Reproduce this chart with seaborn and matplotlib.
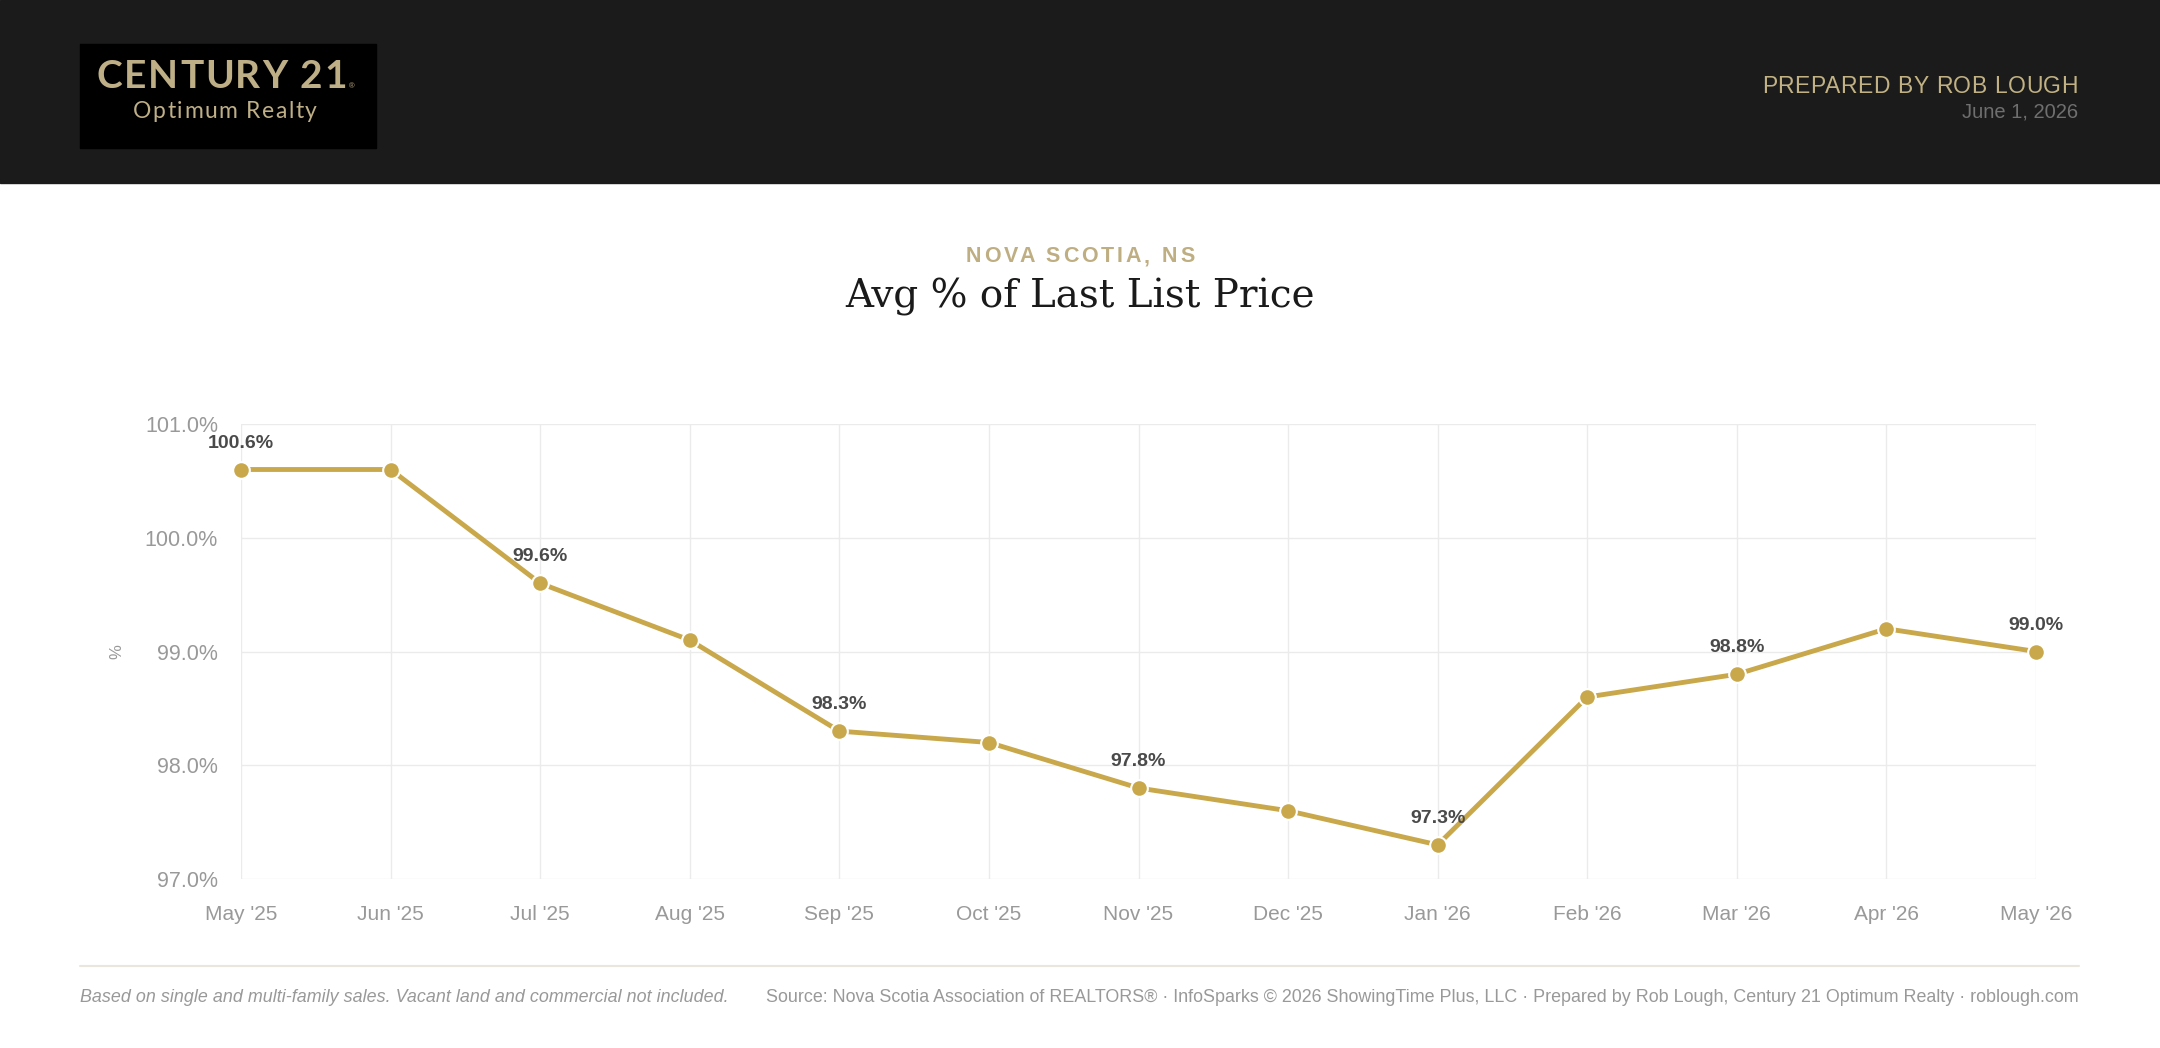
import pandas as pd
import seaborn as sns
import matplotlib.pyplot as plt
from matplotlib.patches import Rectangle
from matplotlib.lines import Line2D

# data
months = ["May '25", "Jun '25", "Jul '25", "Aug '25", "Sep '25", "Oct '25", "Nov '25",
          "Dec '25", "Jan '26", "Feb '26", "Mar '26", "Apr '26", "May '26"]
pct_of_list = [100.6, 100.6, 99.6, 99.1, 98.3, 98.2, 97.8, 97.6, 97.3, 98.6, 98.8, 99.2, 99.0]
labeled_idx = [0, 2, 4, 6, 8, 10, 12]
y_ticks = [97.0, 98.0, 99.0, 100.0, 101.0]

W, H = 2160, 1048
GOLD = '#c9a84c'
GRID = '#ebebeb'

sns.set_theme(style='white')
plt.rcParams['font.family'] = ['Liberation Sans', 'DejaVu Sans']

fig = plt.figure(figsize=(W / 100, H / 100), dpi=100)
fig.patch.set_facecolor('white')


def fx(px):
    return px / W


def fy(py):
    return 1 - py / H


def spaced_text(x, y, s, spacing, ha='left', **kw):
    # draw text char by char so we get letter spacing (pixel coords, y = baseline from top)
    r = fig.canvas.get_renderer()

    def width(t):
        if not t.strip():
            return 0
        tmp = fig.text(0, 0, t, **kw)
        w = tmp.get_window_extent(r).width
        tmp.remove()
        return w

    total = width(s) + spacing * (len(s) - 1)
    if ha == 'center':
        x0 = x - total / 2
    elif ha == 'right':
        x0 = x - total
    else:
        x0 = x
    for i, ch in enumerate(s):
        if ch == ' ':
            continue
        start = width(s[:i + 1]) - width(ch)
        fig.text(fx(x0 + start + i * spacing), fy(y), ch, ha='left', va='baseline', **kw)
    return x0 + total


# header band + logo
fig.add_artist(Rectangle((0, fy(183)), 1, 183 / H, transform=fig.transFigure,
                         color='#1b1b1b', zorder=0))
fig.add_artist(Rectangle((fx(80), fy(148)), 296 / W, 104 / H, transform=fig.transFigure,
                         color='black', zorder=1))
logo_end = spaced_text(97, 88, 'CENTURY 21', 1.6, family=['Lato', 'DejaVu Sans'],
                       fontweight='bold', fontsize=28, color='#beaf87')
fig.text(fx(logo_end + 2), fy(88), '®', fontsize=5.5, color='#beaf87', va='baseline')
spaced_text(225, 118, 'Optimum Realty', 1.5, ha='center', family=['Lato', 'DejaVu Sans'],
            fontsize=16.5, color='#beaf87')

spaced_text(2078, 93, 'PREPARED BY ROB LOUGH', 0.6, ha='right', fontsize=16.5, color='#c2b283')
fig.text(fx(2078), fy(117), 'June 1, 2026', ha='right', va='baseline', fontsize=14.5,
         color='#6f6f6f')

# titles
spaced_text(1080, 262, 'NOVA SCOTIA, NS', 2.9, ha='center', fontsize=15.5, fontweight='bold',
            color='#bfae82')
fig.text(fx(1080), fy(308), 'Avg % of Last List Price', ha='center', va='baseline',
         fontsize=28, family=['DejaVu Serif'], color='#1a1a1a')

# chart
ax = fig.add_axes([fx(241), fy(879), (2036 - 241) / W, (879 - 424) / H])
df = pd.DataFrame({'idx': range(len(months)), 'pct': pct_of_list})
sns.lineplot(data=df, x='idx', y='pct', ax=ax, color=GOLD, linewidth=3.5, marker='o',
             markersize=12, markeredgecolor='white', markeredgewidth=1.5, zorder=3,
             clip_on=False)

ax.set_xlim(0, len(months) - 1)
ax.set_ylim(97, 101)
ax.set_xticks(range(len(months)), months)
ax.set_yticks(y_ticks, [f'{v:.1f}%' for v in y_ticks])
ax.grid(True, color=GRID, lw=1)
for s in ax.spines.values():
    s.set_visible(False)
ax.tick_params(axis='both', length=11.5, width=1, color=GRID, labelcolor='#999999')
ax.tick_params(axis='x', labelsize=15, pad=7)
ax.tick_params(axis='y', labelsize=15.5, pad=5)
ax.set_xlabel('')
ax.set_ylabel('%', fontsize=12, color='#999999', va='center')
ax.yaxis.set_label_coords((117 - 241) / (2036 - 241), 0.5)

for i in labeled_idx:
    ax.annotate(f'{pct_of_list[i]:.1f}%', (i, pct_of_list[i]), xytext=(0, 15.8),
                textcoords='offset points', ha='center', va='baseline', fontsize=14,
                fontweight='bold', color='#4a4a4a', zorder=4)

# footer
fig.add_artist(Line2D([fx(80), fx(2079)], [fy(966), fy(966)], color='#ebe6dc', lw=1.5))
fig.text(fx(80), fy(998), 'Based on single and multi-family sales. Vacant land and commercial not included.',
         ha='left', va='center', style='italic', fontsize=12.9, color='#999999')
fig.text(fx(2079), fy(998),
         'Source: Nova Scotia Association of REALTORS® · InfoSparks © 2026 ShowingTime Plus, LLC · '
         'Prepared by Rob Lough, Century 21 Optimum Realty · roblough.com',
         ha='right', va='center', fontsize=12.9, color='#999999')

fig.savefig('out.png', dpi=100, facecolor='white')
